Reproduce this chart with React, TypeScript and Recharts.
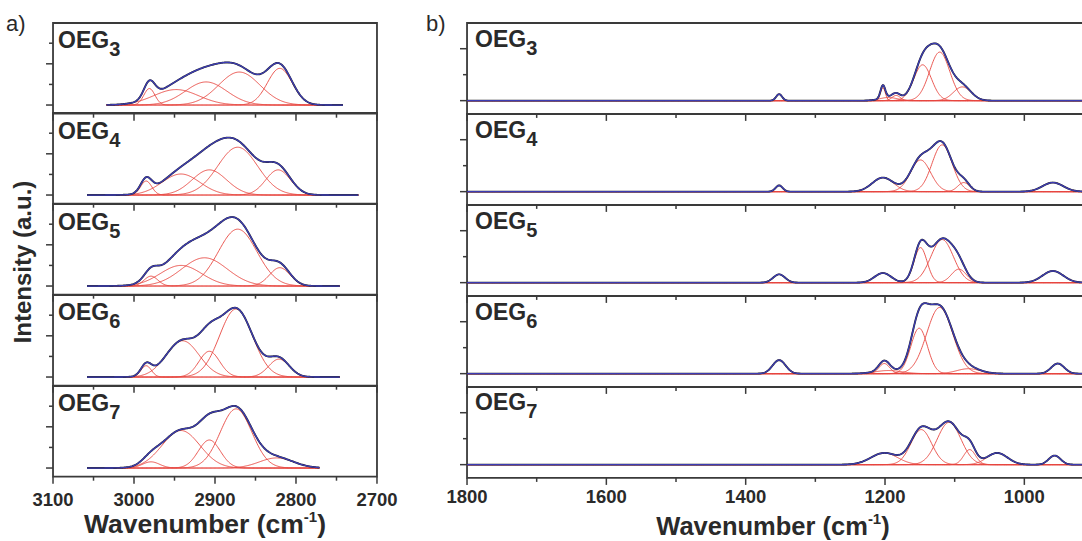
import React from 'react';
import { ComposedChart, Line, XAxis, YAxis, ReferenceArea } from 'recharts';

// [centre cm-1, height, fwhm] for every fitted band
type Peak = [number, number, number];

const stripNames = ['3', '4', '5', '6', '7'];

// panel a: C-H stretch region
const aSpans: [number, number][] = [
  [2742, 3034],
  [2723, 3058],
  [2746, 3058],
  [2746, 3058],
  [2771, 3058],
];
const aPeaks3: Peak[] = [[2981, 0.8, 16], [2948, 0.75, 65], [2911, 1.12, 60], [2870, 1.6, 60], [2820, 1.78, 36]];
const aPeaks4: Peak[] = [[2985, 0.68, 16], [2942, 1.02, 55], [2907, 1.22, 50], [2872, 2.32, 58], [2822, 1.22, 36]];
const aPeaks5: Peak[] = [[2979, 0.48, 20], [2942, 1.0, 60], [2913, 1.37, 66], [2872, 2.76, 56], [2820, 0.89, 30]];
const aPeaks6: Peak[] = [[2985, 0.55, 15], [2940, 1.76, 48], [2907, 1.25, 30], [2874, 3.3, 48], [2821, 0.87, 30]];
const aPeaks7: Peak[] = [[2979, 0.3, 25], [2942, 1.82, 55], [2907, 1.36, 32], [2874, 2.87, 46], [2824, 0.49, 50]];
const aPeaks = [aPeaks3, aPeaks4, aPeaks5, aPeaks6, aPeaks7];

// panel b: fingerprint region
const bSpan: [number, number] = [850, 1800];
const bPeaks3: Peak[] = [[1352, 0.25, 10], [1203, 0.5, 8], [1195, 0.12, 30], [1184, 0.2, 14], [1146, 1.38, 30], [1121.5, 1.87, 34], [1089, 0.53, 30]];
const bPeaks4: Peak[] = [[1352, 0.24, 12], [1203, 0.54, 36], [1149, 1.22, 34], [1118, 1.8, 34], [1087, 0.35, 20], [959, 0.35, 35]];
const bPeaks5: Peak[] = [[1352, 0.32, 20], [1203, 0.37, 28], [1149, 1.35, 22], [1118, 1.66, 38], [1094, 0.52, 25], [959, 0.45, 35]];
const bPeaks6: Peak[] = [[1352, 0.52, 22], [1201, 0.39, 18], [1195, 0.12, 45], [1151, 1.75, 28], [1121.5, 2.55, 44], [1080, 0.19, 40], [952, 0.39, 22]];
const bPeaks7: Peak[] = [[1201, 0.45, 45], [1148, 1.35, 35], [1108, 1.63, 40], [1078.5, 0.58, 20], [1039, 0.45, 35], [956.5, 0.35, 20]];
const bPeaks = [bPeaks3, bPeaks4, bPeaks5, bPeaks6, bPeaks7];

const aMajorX = [3100, 3000, 2900, 2800, 2700];
const aMinorX = [3050, 2950, 2850, 2750];
const bMajorX = [1800, 1600, 1400, 1200, 1000];
const bMinorX = [1700, 1500, 1300, 1100, 900];
const aMajorY = [0, 2];
const aMinorY = [1, 3];
const bMajorY = [0, 2];
const bMinorY = [1];

const FONT = '"Liberation Sans", Arial, Helvetica, sans-serif';
const AXIS = '#3a3a3a';
const TXT = '#2a2a2a';
const RED = '#e8463f';
const BLUE = '#3c3cb4';

const band = (x: number, [c, h, f]: Peak) => h * Math.exp((-4 * Math.LN2 * (x - c) * (x - c)) / (f * f));

function buildRows(peaks: Peak[], lo: number, hi: number) {
  const rows: Record<string, number>[] = [];
  for (let x = lo; x <= hi; x += 1) {
    const row: Record<string, number> = { w: x };
    let sum = 0;
    peaks.forEach((p, i) => {
      const v = band(x, p);
      row['p' + i] = v;
      sum += v;
    });
    row.raw = sum;
    row.fit = sum;
    rows.push(row);
  }
  return rows;
}

const makeXTick = (majors: number[], withLabel: boolean, labelDy: number) => (props: any) => {
  const { x, y, payload } = props;
  const big = majors.includes(payload.value);
  return (
    <g>
      <line x1={x} y1={y} x2={x} y2={y + (big ? 7 : 4)} stroke={AXIS} strokeWidth={1.5} />
      {withLabel && big && (
        <text x={x} y={y + labelDy} textAnchor="middle" fontSize={18.5} fontWeight="bold" fill={TXT} fontFamily={FONT}>
          {payload.value}
        </text>
      )}
    </g>
  );
};

const makeYTick = (majors: number[]) => (props: any) => {
  const { x, y, payload } = props;
  const big = majors.includes(payload.value);
  return <line x1={x} y1={y} x2={x - (big ? 7 : 4)} y2={y} stroke={AXIS} strokeWidth={1.5} />;
};

interface StripProps {
  peaks: Peak[];
  span: [number, number];
  left: number;
  top: number;
  plotW: number;
  plotH: number;
  xDomain: [number, number];
  yDomain: [number, number];
  majorX: number[];
  minorX: number[];
  majorY: number[];
  minorY: number[];
  last: boolean;
  labelDy: number;
}

const Strip: React.FC<StripProps> = (p) => {
  const AXW = 12;
  const SIDE = 26;
  const PAD = 2;
  const bottomH = p.last ? 40 : 10;
  const rows = buildRows(p.peaks, p.span[0], p.span[1]);
  return (
    <div style={{ position: 'absolute', left: p.left - AXW - SIDE, top: p.top - PAD }}>
      <ComposedChart
        width={SIDE + AXW + p.plotW + SIDE}
        height={PAD + p.plotH + bottomH}
        data={rows}
        margin={{ top: PAD, right: SIDE, bottom: 0, left: SIDE }}
      >
        <XAxis
          dataKey="w"
          type="number"
          domain={p.xDomain}
          reversed
          allowDataOverflow
          ticks={[...p.majorX, ...p.minorX]}
          interval={0}
          tickSize={0}
          tickMargin={0}
          tickLine={false}
          axisLine={false}
          height={bottomH}
          tick={makeXTick(p.majorX, p.last, p.labelDy)}
        />
        <YAxis
          type="number"
          domain={p.yDomain}
          allowDataOverflow
          ticks={[...p.majorY, ...p.minorY]}
          interval={0}
          width={AXW}
          tickSize={0}
          tickMargin={0}
          tickLine={false}
          axisLine={false}
          tick={makeYTick(p.majorY)}
        />
        <ReferenceArea
          x1={p.xDomain[0]}
          x2={p.xDomain[1]}
          y1={p.yDomain[0]}
          y2={p.yDomain[1]}
          fill="none"
          stroke={AXIS}
          strokeWidth={1.8}
        />
        {p.peaks.map((_, i) => (
          <Line key={'p' + i} dataKey={'p' + i} stroke={RED} strokeWidth={0.9} dot={false} isAnimationActive={false} />
        ))}
        <Line dataKey="raw" stroke="#262626" strokeWidth={1.9} dot={false} isAnimationActive={false} />
        <Line dataKey="fit" stroke={BLUE} strokeWidth={1.3} dot={false} isAnimationActive={false} />
      </ComposedChart>
    </div>
  );
};

const A_LEFT = 53.3;
const A_W = 324;
const A_TOP = 22.7;
const A_H = 90.7;
const B_LEFT = 467.3;
const B_SCALE = 0.6967;
const B_TOP = 23.3;
const B_H = 90.9;

const OegLabel: React.FC<{ x: number; y: number; n: string }> = ({ x, y, n }) => (
  <text x={x} y={y} fontFamily={FONT} fontWeight="bold" fontSize={23} fill={TXT}>
    OEG
    <tspan fontSize={20} dy={8}>
      {n}
    </tspan>
  </text>
);

export default function App() {
  return (
    <div style={{ position: 'fixed', left: 0, top: 0, width: 1082, height: 541, overflow: 'hidden', background: '#fff' }}>
      {aPeaks.map((pk, i) => (
        <Strip
          key={'a' + i}
          peaks={pk}
          span={aSpans[i]}
          left={A_LEFT}
          top={A_TOP + i * A_H}
          plotW={A_W}
          plotH={A_H}
          xDomain={[2700, 3100]}
          yDomain={[-0.42, 3.98]}
          majorX={aMajorX}
          minorX={aMinorX}
          majorY={aMajorY}
          minorY={aMinorY}
          last={i === 4}
          labelDy={29.7}
        />
      ))}
      {bPeaks.map((pk, i) => (
        <Strip
          key={'b' + i}
          peaks={pk}
          span={bSpan}
          left={B_LEFT}
          top={B_TOP + i * B_H}
          plotW={(bSpan[1] - bSpan[0]) * B_SCALE}
          plotH={B_H}
          xDomain={bSpan}
          yDomain={[-0.51, 2.99]}
          majorX={bMajorX}
          minorX={bMinorX}
          majorY={bMajorY}
          minorY={bMinorY}
          last={i === 4}
          labelDy={25}
        />
      ))}
      <svg width={1082} height={541} style={{ position: 'absolute', left: 0, top: 0, pointerEvents: 'none' }}>
        <text x={6} y={31} fontFamily={FONT} fontSize={22} fill={TXT}>a)</text>
        <text x={426} y={31} fontFamily={FONT} fontSize={22} fill={TXT}>b)</text>
        <text transform="translate(31,262) rotate(-90)" textAnchor="middle" fontFamily={FONT} fontWeight="bold" fontSize={24} fill={TXT}>
          Intensity (a.u.)
        </text>
        {stripNames.map((n, i) => (
          <OegLabel key={'la' + i} x={58} y={A_TOP + i * A_H + 25.6} n={n} />
        ))}
        {stripNames.map((n, i) => (
          <OegLabel key={'lb' + i} x={475} y={B_TOP + i * B_H + 23.5} n={n} />
        ))}
        <text x={205} y={533} textAnchor="middle" fontFamily={FONT} fontWeight="bold" fontSize={26.5} fill={TXT}>
          Wavenumber (cm
          <tspan fontSize={15} dy={-11}>-1</tspan>
          <tspan dy={11}>)</tspan>
        </text>
        <text x={773} y={535} textAnchor="middle" fontFamily={FONT} fontWeight="bold" fontSize={25.5} fill={TXT}>
          Wavenumber (cm
          <tspan fontSize={15} dy={-11}>-1</tspan>
          <tspan dy={11}>)</tspan>
        </text>
      </svg>
    </div>
  );
}
